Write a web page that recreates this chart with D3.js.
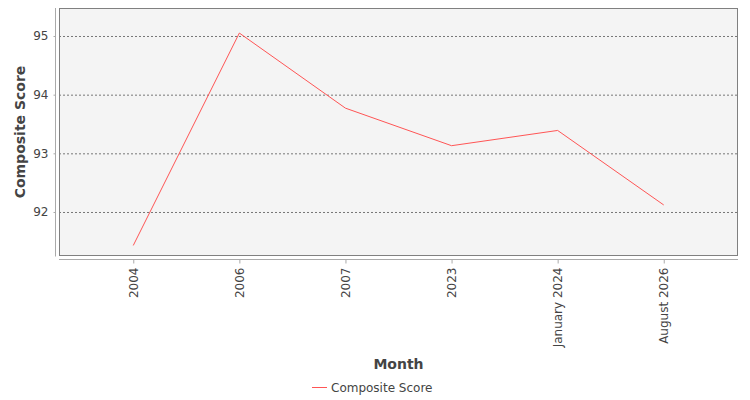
<!DOCTYPE html>
<html>
<head>
<meta charset="utf-8">
<script src="https://cdn.jsdelivr.net/npm/d3@7"></script>
<style>
    body { margin: 0; background: #fff; }
    svg { display: block; font-family: "DejaVu Sans", sans-serif; }
</style>
</head>
<body>
<div id="chart"></div>
<script>
const months = ['2004', '2006', '2007', '2023', 'January 2024', 'August 2026'];
const scores = [91.43, 95.05, 93.77, 93.13, 93.39, 92.12];
const yTicks = [92, 93, 94, 95];

const width = 750, height = 400;
const plot = { left: 59, right: 738, top: 8, bottom: 256 };

const svg = d3.select('#chart').append('svg')
    .attr('width', width)
    .attr('height', height);

const x = d3.scalePoint()
    .domain(months)
    .range([plot.left, plot.right])
    .padding(0.7);

const y = d3.scaleLinear()
    .domain([91.25, 95.477])
    .range([plot.bottom, plot.top]);

// plot background
svg.append('rect')
    .attr('x', plot.left)
    .attr('y', plot.top)
    .attr('width', plot.right - plot.left)
    .attr('height', plot.bottom - plot.top)
    .attr('fill', '#f4f4f4');

// gridlines
svg.append('g')
    .selectAll('line')
    .data(yTicks)
    .join('line')
    .attr('x1', plot.left)
    .attr('x2', plot.right)
    .attr('y1', d => y(d) + 0.5)
    .attr('y2', d => y(d) + 0.5)
    .attr('stroke', '#777')
    .attr('stroke-width', 1)
    .attr('stroke-dasharray', '2,2');

// border
svg.append('rect')
    .attr('x', plot.left + 0.5)
    .attr('y', plot.top + 0.5)
    .attr('width', plot.right - plot.left - 1)
    .attr('height', plot.bottom - plot.top - 1)
    .attr('fill', 'none')
    .attr('stroke', '#808080');

// y axis
const yAxis = svg.append('g')
    .attr('transform', 'translate(55.5,0)')
    .call(d3.axisLeft(y).tickValues(yTicks).tickFormat(d3.format('d')).tickSize(2).tickPadding(5));
yAxis.select('.domain')
    .attr('d', `M0,${plot.top}V${plot.bottom + 0.5}`)
    .attr('stroke', '#aaa');
yAxis.selectAll('.tick line').attr('stroke', '#aaa');
yAxis.selectAll('.tick text')
    .attr('fill', '#444')
    .style('font-size', '12px')
    .style('font-family', '"DejaVu Sans", sans-serif');

// x axis
const xAxis = svg.append('g')
    .attr('transform', 'translate(0,259.5)')
    .call(d3.axisBottom(x).tickSize(4).tickSizeOuter(0));
xAxis.select('.domain')
    .attr('d', `M${plot.left},0H${plot.right}`)
    .attr('stroke', '#aaa');
xAxis.selectAll('.tick line').attr('stroke', '#aaa');
xAxis.selectAll('.tick text')
    .attr('fill', '#444')
    .style('font-size', '12px')
    .style('font-family', '"DejaVu Sans", sans-serif')
    .attr('transform', 'rotate(-90)')
    .attr('text-anchor', 'end')
    .attr('x', -8)
    .attr('y', 0)
    .attr('dy', '0.35em');

// axis titles
svg.append('text')
    .attr('transform', `translate(25,${(plot.top + plot.bottom) / 2}) rotate(-90)`)
    .attr('text-anchor', 'middle')
    .attr('fill', '#444')
    .style('font-size', '14px')
    .style('font-weight', 'bold')
    .text('Composite Score');

svg.append('text')
    .attr('x', (plot.left + plot.right) / 2)
    .attr('y', 369)
    .attr('text-anchor', 'middle')
    .attr('fill', '#444')
    .style('font-size', '14px')
    .style('font-weight', 'bold')
    .text('Month');

// line
const line = d3.line()
    .x((d, i) => x(months[i]))
    .y(d => y(d));

svg.append('path')
    .datum(scores)
    .attr('d', line)
    .attr('fill', 'none')
    .attr('stroke', '#ff5555')
    .attr('stroke-width', 1);

// legend
const legend = svg.append('g').attr('transform', 'translate(312,388)');
legend.append('line')
    .attr('x1', 0).attr('x2', 15)
    .attr('y1', -0.5).attr('y2', -0.5)
    .attr('stroke', '#ff5555');
legend.append('text')
    .attr('x', 19)
    .attr('y', 0)
    .attr('dy', '0.35em')
    .attr('fill', '#444')
    .style('font-size', '12px')
    .text('Composite Score');
</script>
</body>
</html>
